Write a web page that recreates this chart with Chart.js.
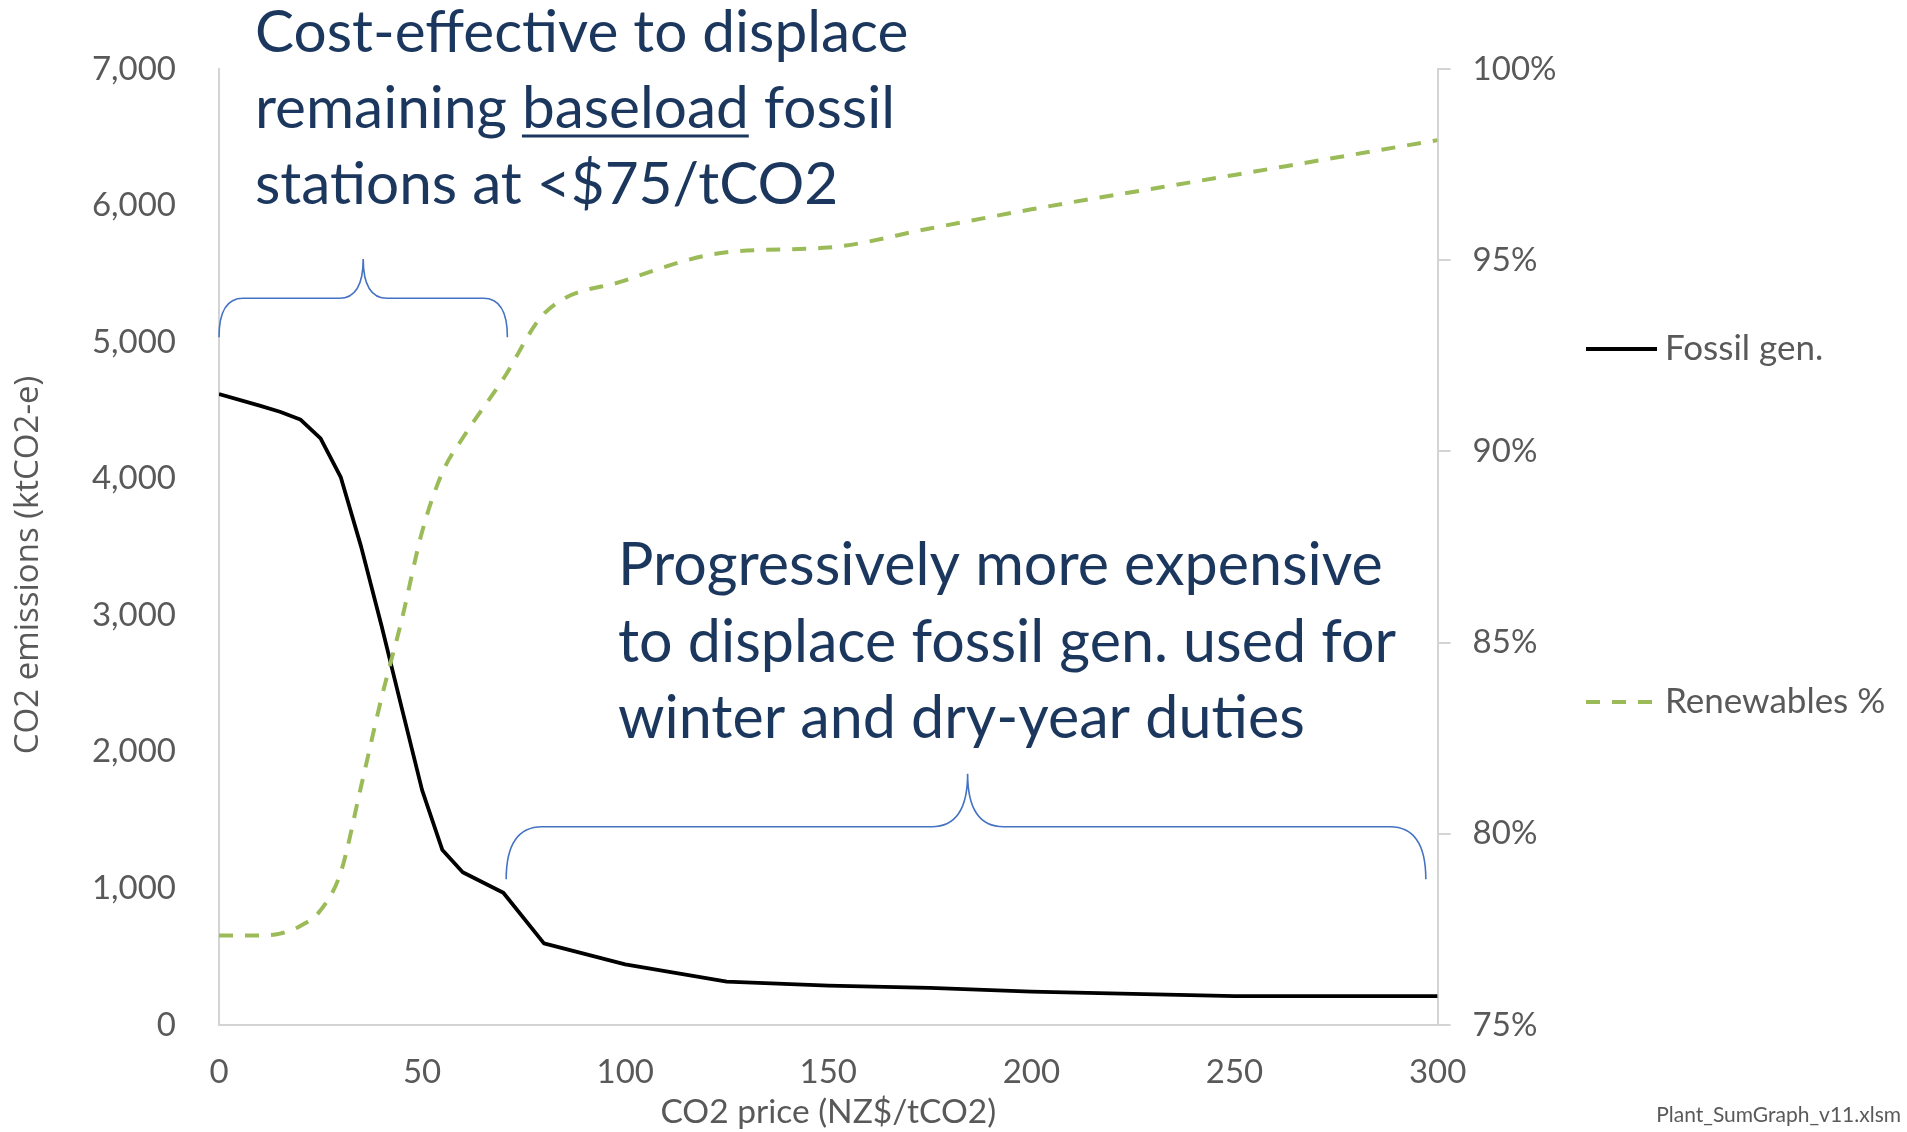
<!DOCTYPE html>
<html>
<head>
<meta charset="utf-8">
<script src="https://cdn.jsdelivr.net/npm/chart.js@4.4.1/dist/chart.umd.min.js"></script>
<style>
  html, body { margin: 0; padding: 0; background: #fff; overflow: hidden; }
  canvas { display: block; }
</style>
</head>
<body>
<canvas id="chart" width="1907" height="1132"></canvas>
<script>
// CO2 price steps (NZ$/tCO2) and the resulting fossil emissions (ktCO2-e)
const fossilPrice = [0, 10, 15, 20, 25, 30, 35, 40, 45, 50, 55, 60, 70, 80, 100, 125, 150, 175, 200, 250, 300];
const fossilEmissions = [4620, 4535, 4490, 4434, 4295, 4009, 3501, 2925, 2320, 1720, 1281, 1118, 968, 598, 444, 317, 288, 272, 244, 212, 212];

// Renewable share of generation (%) at the same CO2 prices
const renewPrice = [0, 10, 15, 20, 25, 30, 35, 40, 45, 50, 55, 60, 70, 80, 100, 125, 150, 175, 200, 250, 300];
const renewShare = [77.34, 77.34, 77.39, 77.59, 78.0, 79.0, 81.25, 83.55, 85.6, 87.9, 89.45, 90.35, 91.9, 93.6, 94.47, 95.21, 95.33, 95.83, 96.33, 97.23, 98.14];

// Axis ranges and tick steps
const priceRange = [0, 300, 50];
const emissionsRange = [0, 7000, 1000];
const shareRange = [75, 100, 5];

// Curly braces marking price bands: CO2 price span, tip, and heights on the emissions axis
const braceFrom = [0, 70.7];
const braceTo = [71, 297.1];
const braceTip = [35.5, 184.3];
const braceEnd = [5035, 1067];
const braceBar = [5321, 1452];
const braceApex = [5609, 1840];

// Callout text
const noteTop = [
  [["Cost-effective to displace", false]],
  [["remaining ", false], ["baseload", true], [" fossil", false]],
  [["stations at <$75/tCO2", false]]
];
const noteBottom = [
  [["Progressively more expensive", false]],
  [["to displace fossil gen. used for", false]],
  [["winter and dry-year duties", false]]
];
const emissionsTitle = "CO2 emissions (ktCO2-e)";
const fileTag = "Plant_SumGraph_v11.xlsm";

// ---- styling ----
const GREY = '#595959';
const AXIS = '#d4d4d4';
const NAVY = '#1c375e';
const BRACE = '#4472c4';
const LABEL_FONT = { family: 'Lato', size: 33 };
const braceRound = [24, 36];

const xy = (xs, ys) => xs.map((x, i) => ({ x, y: ys[i] }));

function drawBrace(ctx, chart, i) {
  const xs = chart.scales.x, ys = chart.scales.y;
  const x0 = xs.getPixelForValue(braceFrom[i]);
  const x1 = xs.getPixelForValue(braceTo[i]);
  const xt = xs.getPixelForValue(braceTip[i]);
  const yEnd = ys.getPixelForValue(braceEnd[i]);
  const yBar = ys.getPixelForValue(braceBar[i]);
  const yApex = ys.getPixelForValue(braceApex[i]);
  const r = braceRound[i];
  ctx.beginPath();
  ctx.moveTo(x0, yEnd);
  ctx.quadraticCurveTo(x0, yBar, x0 + r, yBar);
  ctx.lineTo(xt - r, yBar);
  ctx.quadraticCurveTo(xt, yBar, xt, yApex);
  ctx.quadraticCurveTo(xt, yBar, xt + r, yBar);
  ctx.lineTo(x1 - r, yBar);
  ctx.quadraticCurveTo(x1, yBar, x1, yEnd);
  ctx.stroke();
}

function drawNote(ctx, lines, x, y0, step, size) {
  ctx.font = size + 'px Lato';
  ctx.fillStyle = NAVY;
  ctx.strokeStyle = NAVY;
  ctx.textBaseline = 'alphabetic';
  ctx.textAlign = 'left';
  lines.forEach((segs, li) => {
    let cx = x;
    const by = y0 + li * step;
    segs.forEach(([t, under]) => {
      const w = ctx.measureText(t).width;
      ctx.fillText(t, cx, by);
      if (under) {
        ctx.lineWidth = 3;
        ctx.beginPath();
        ctx.moveTo(cx, by + 8);
        ctx.lineTo(cx + w, by + 8);
        ctx.stroke();
      }
      cx += w;
    });
  });
}

const overlay = {
  id: 'overlay',
  afterDatasetsDraw(chart) {
    const ctx = chart.ctx;
    ctx.save();
    ctx.strokeStyle = BRACE;
    ctx.lineWidth = 1.6;
    for (let i = 0; i < braceFrom.length; i++) drawBrace(ctx, chart, i);
    ctx.restore();
  },
  afterDraw(chart) {
    const ctx = chart.ctx;
    ctx.save();
    drawNote(ctx, noteTop, 255, 52, 76, 58.5);
    drawNote(ctx, noteBottom, 618, 585, 76.5, 59.2);

    // left axis title, rotated
    ctx.save();
    ctx.translate(29, 565);
    ctx.rotate(-Math.PI / 2);
    ctx.font = '33px "Open Sans"';
    ctx.fillStyle = GREY;
    ctx.textAlign = 'center';
    ctx.textBaseline = 'middle';
    ctx.fillText(emissionsTitle, 0, 0);
    ctx.restore();

    // legend
    const rows = [349, 702];
    chart.data.datasets.forEach((ds, i) => {
      const y = rows[i];
      ctx.strokeStyle = ds.borderColor;
      ctx.lineWidth = ds.borderWidth;
      ctx.setLineDash(ds.borderDash || []);
      ctx.beginPath();
      ctx.moveTo(1586, y);
      ctx.lineTo(1657, y);
      ctx.stroke();
      ctx.setLineDash([]);
      ctx.fillStyle = GREY;
      ctx.font = '35px Lato';
      ctx.textBaseline = 'middle';
      ctx.textAlign = 'left';
      ctx.fillText(ds.label, 1665, y);
    });

    ctx.font = '21px Lato';
    ctx.fillStyle = GREY;
    ctx.textAlign = 'right';
    ctx.textBaseline = 'middle';
    ctx.fillText(fileTag, 1901, 1115);
    ctx.restore();
  }
};

new Chart(document.getElementById('chart'), {
  type: 'line',
  data: {
    datasets: [
      {
        label: 'Fossil gen.',
        data: xy(fossilPrice, fossilEmissions),
        yAxisID: 'y',
        borderColor: '#000000',
        borderWidth: 3.8,
        borderJoinStyle: 'round',
        pointRadius: 0,
        tension: 0,
        order: 1
      },
      {
        label: 'Renewables %',
        data: xy(renewPrice, renewShare),
        yAxisID: 'y2',
        borderColor: '#9bbb59',
        borderWidth: 4,
        borderDash: [14, 12],
        pointRadius: 0,
        cubicInterpolationMode: 'monotone',
        order: 0
      }
    ]
  },
  options: {
    responsive: false,
    animation: false,
    devicePixelRatio: 1,
    layout: { padding: { top: 69, left: 0, right: 0, bottom: 0 } },
    plugins: { legend: { display: false }, tooltip: { enabled: false } },
    scales: {
      x: {
        type: 'linear',
        min: priceRange[0], max: priceRange[1],
        ticks: { stepSize: priceRange[2], padding: 28, color: GREY, font: LABEL_FONT },
        grid: { display: false, drawTicks: false },
        border: { color: AXIS, width: 2 },
        title: { display: true, text: 'CO2 price (NZ$/tCO2)', color: GREY, font: { family: 'Lato', size: 33.5 }, padding: 0 },
        afterFit(s) { s.height = 107; }
      },
      y: {
        position: 'left',
        min: emissionsRange[0], max: emissionsRange[1],
        ticks: { stepSize: emissionsRange[2], padding: 43, color: GREY, font: LABEL_FONT,
                 callback: v => v.toLocaleString('en-US') },
        grid: { display: false, drawTicks: false },
        border: { color: AXIS, width: 2 },
        afterFit(s) { s.width = 219; }
      },
      y2: {
        position: 'right',
        min: shareRange[0], max: shareRange[1],
        ticks: { stepSize: shareRange[2], padding: 22, color: GREY, font: LABEL_FONT,
                 callback: v => v + '%' },
        grid: { display: true, drawOnChartArea: false, drawTicks: true, tickLength: 13, color: AXIS, lineWidth: 2 },
        border: { color: AXIS, width: 2 },
        afterFit(s) { s.width = 1907 - 1437.6; }
      }
    }
  },
  plugins: [overlay]
});
</script>
</body>
</html>
